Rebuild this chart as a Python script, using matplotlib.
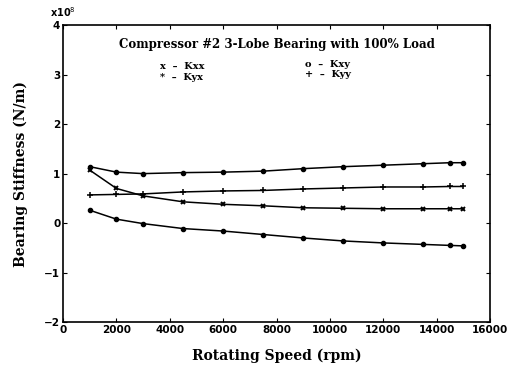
import matplotlib
matplotlib.use("Agg")
import matplotlib.pyplot as plt

# rotating speed (rpm)
speed = [1000, 2000, 3000, 4500, 6000, 7500, 9000, 10500, 12000, 13500, 14500, 15000]

# stiffness coefficients (x1e8 N/m)
kxx = [1.07, 0.70, 0.55, 0.43, 0.38, 0.35, 0.31, 0.30, 0.29, 0.29, 0.29, 0.29]
kxy = [1.14, 1.03, 1.00, 1.02, 1.03, 1.05, 1.10, 1.14, 1.17, 1.20, 1.22, 1.22]
kyx = [0.26, 0.08, -0.01, -0.11, -0.16, -0.23, -0.30, -0.36, -0.40, -0.43, -0.45, -0.46]
kyy = [0.57, 0.58, 0.59, 0.63, 0.65, 0.66, 0.69, 0.71, 0.73, 0.73, 0.74, 0.74]

fig = plt.figure(figsize=(5.13, 3.69), dpi=100)
ax = fig.add_axes([0.123, 0.127, 0.832, 0.805])

ax.plot(speed, kxx, color="black", lw=1.1, marker="x", ms=3, mew=1.4)
ax.plot(speed, kxy, color="black", lw=1.1, marker="o", ms=3)
ax.plot(speed, kyx, color="black", lw=1.1, marker="o", ms=3)
ax.plot(speed, kyy, color="black", lw=1.1, marker="+", ms=4, mew=1.1)

ax.set_xlim(0, 16000)
ax.set_ylim(-2, 4)
ax.set_xticks(range(0, 16001, 2000))
ax.set_yticks(range(-2, 5))
ax.tick_params(direction="in", top=True, right=True, length=3, width=0.8,
               labelsize=7.5, pad=2)
for lab in ax.get_xticklabels() + ax.get_yticklabels():
    lab.set_fontweight("bold")
for s in ax.spines.values():
    s.set_linewidth(1.2)

fig.text(0.123, 0.955, "x10$^8$", fontsize=7, fontweight="bold", ha="center")

ser = "DejaVu Serif"
ax.text(0.5, 0.936, "Compressor #2 3-Lobe Bearing with 100% Load",
        transform=ax.transAxes, ha="center", va="center",
        family=ser, fontweight="bold", fontsize=8.5)
ax.text(0.227, 0.862, "x  \u2013  Kxx", transform=ax.transAxes, family=ser,
        fontweight="bold", fontsize=7, va="center")
ax.text(0.227, 0.825, "*  \u2013  Kyx", transform=ax.transAxes, family=ser,
        fontweight="bold", fontsize=7, va="center")
ax.text(0.567, 0.869, "o  \u2013  Kxy", transform=ax.transAxes, family=ser,
        fontweight="bold", fontsize=7, va="center")
ax.text(0.567, 0.832, "+  \u2013  Kyy", transform=ax.transAxes, family=ser,
        fontweight="bold", fontsize=7, va="center")

ax.set_xlabel("Rotating Speed (rpm)", family=ser, fontweight="bold",
              fontsize=10, labelpad=10)
ax.set_ylabel("Bearing Stiffness (N/m)", family=ser, fontweight="bold",
              fontsize=10, labelpad=12)

fig.savefig("out.png", dpi=100)
